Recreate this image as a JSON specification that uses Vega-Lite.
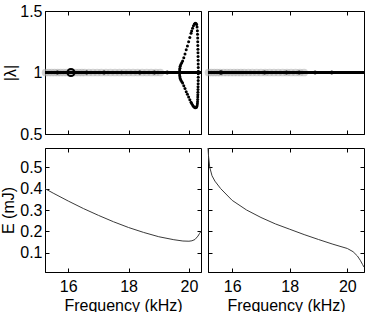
{
  "$schema": "https://vega.github.io/schema/vega-lite/v6.json",
  "padding": {"left": 0, "top": 2, "right": 0, "bottom": 0},
  "background": "white",
  "columns": 2,
  "spacing": {"row": 14, "column": 7},
  "bounds": "flush",
  "config": {
    "font": "Liberation Sans",
    "view": {"stroke": "black", "strokeWidth": 1},
    "axis": {
      "grid": false,
      "labelFont": "Liberation Sans",
      "titleFont": "Liberation Sans",
      "labelFontSize": 16,
      "titleFontSize": 16,
      "titleFontWeight": "normal",
      "labelColor": "black",
      "titleColor": "black",
      "domainColor": "black",
      "tickColor": "black",
      "tickSize": -4,
      "labelPadding": 7
    }
  },
  "datasets": {
    "baseline": [
      {"panel": "L", "f": 15.23, "v": 1},
      {"panel": "L", "f": 20.4, "v": 1},
      {"panel": "R", "f": 15.16, "v": 1},
      {"panel": "R", "f": 20.58, "v": 1}
    ],
    "gray": [
      {"panel": "L", "f": 15.25, "v": 1}, {"panel": "L", "f": 15.35, "v": 1}, {"panel": "L", "f": 15.45, "v": 1},
      {"panel": "L", "f": 15.55, "v": 1}, {"panel": "L", "f": 15.65, "v": 1}, {"panel": "L", "f": 15.75, "v": 1},
      {"panel": "L", "f": 15.85, "v": 1}, {"panel": "L", "f": 15.95, "v": 1}, {"panel": "L", "f": 16.05, "v": 1},
      {"panel": "L", "f": 16.15, "v": 1}, {"panel": "L", "f": 16.25, "v": 1}, {"panel": "L", "f": 16.35, "v": 1},
      {"panel": "L", "f": 16.45, "v": 1}, {"panel": "L", "f": 16.55, "v": 1}, {"panel": "L", "f": 16.68, "v": 1},
      {"panel": "L", "f": 16.82, "v": 1}, {"panel": "L", "f": 16.96, "v": 1}, {"panel": "L", "f": 17.1, "v": 1},
      {"panel": "L", "f": 17.25, "v": 1}, {"panel": "L", "f": 17.4, "v": 1}, {"panel": "L", "f": 17.55, "v": 1},
      {"panel": "L", "f": 17.7, "v": 1}, {"panel": "L", "f": 17.85, "v": 1}, {"panel": "L", "f": 18.0, "v": 1},
      {"panel": "L", "f": 18.15, "v": 1}, {"panel": "L", "f": 18.3, "v": 1}, {"panel": "L", "f": 18.45, "v": 1},
      {"panel": "L", "f": 18.6, "v": 1}, {"panel": "L", "f": 18.75, "v": 1}, {"panel": "L", "f": 18.9, "v": 1},
      {"panel": "L", "f": 19.05, "v": 1},
      {"panel": "R", "f": 15.18, "v": 1}, {"panel": "R", "f": 15.28, "v": 1}, {"panel": "R", "f": 15.38, "v": 1},
      {"panel": "R", "f": 15.48, "v": 1}, {"panel": "R", "f": 15.58, "v": 1}, {"panel": "R", "f": 15.7, "v": 1},
      {"panel": "R", "f": 15.82, "v": 1}, {"panel": "R", "f": 15.94, "v": 1}, {"panel": "R", "f": 16.06, "v": 1},
      {"panel": "R", "f": 16.18, "v": 1}, {"panel": "R", "f": 16.3, "v": 1}, {"panel": "R", "f": 16.42, "v": 1},
      {"panel": "R", "f": 16.56, "v": 1}, {"panel": "R", "f": 16.7, "v": 1}, {"panel": "R", "f": 16.85, "v": 1},
      {"panel": "R", "f": 17.0, "v": 1}, {"panel": "R", "f": 17.15, "v": 1}, {"panel": "R", "f": 17.3, "v": 1},
      {"panel": "R", "f": 17.45, "v": 1}, {"panel": "R", "f": 17.6, "v": 1}, {"panel": "R", "f": 17.75, "v": 1},
      {"panel": "R", "f": 17.9, "v": 1}, {"panel": "R", "f": 18.05, "v": 1}, {"panel": "R", "f": 18.2, "v": 1},
      {"panel": "R", "f": 18.35, "v": 1}, {"panel": "R", "f": 18.5, "v": 1}
    ],
    "dots": [
      {"panel": "L", "f": 15.64, "v": 1, "kind": "m"},
      {"panel": "L", "f": 16.09, "v": 1, "kind": "ring"},
      {"panel": "L", "f": 16.61, "v": 1, "kind": "s"},
      {"panel": "L", "f": 17.19, "v": 1, "kind": "m"},
      {"panel": "L", "f": 17.76, "v": 1, "kind": "xs"},
      {"panel": "L", "f": 18.37, "v": 1, "kind": "m"},
      {"panel": "L", "f": 18.86, "v": 1, "kind": "s"},
      {"panel": "L", "f": 19.28, "v": 1, "kind": "s"},
      {"panel": "R", "f": 15.61, "v": 1, "kind": "L"},
      {"panel": "R", "f": 17.13, "v": 1, "kind": "m"},
      {"panel": "R", "f": 17.89, "v": 1, "kind": "s"},
      {"panel": "R", "f": 18.33, "v": 1, "kind": "m"},
      {"panel": "R", "f": 18.88, "v": 1, "kind": "s"},
      {"panel": "R", "f": 19.46, "v": 1, "kind": "s"}
    ],
    "loop": [
      {"f": 19.69, "v": 1.0}, {"f": 19.692, "v": 1.02}, {"f": 19.70, "v": 1.035}, {"f": 19.71, "v": 1.05},
      {"f": 19.73, "v": 1.065}, {"f": 19.76, "v": 1.08}, {"f": 19.79, "v": 1.093}, {"f": 19.83, "v": 1.12},
      {"f": 19.87, "v": 1.15}, {"f": 19.91, "v": 1.185}, {"f": 19.95, "v": 1.215}, {"f": 19.99, "v": 1.25},
      {"f": 20.03, "v": 1.285}, {"f": 20.07, "v": 1.32}, {"f": 20.09, "v": 1.337}, {"f": 20.12, "v": 1.36},
      {"f": 20.15, "v": 1.38}, {"f": 20.18, "v": 1.395}, {"f": 20.21, "v": 1.40}, {"f": 20.235, "v": 1.398},
      {"f": 20.255, "v": 1.39}, {"f": 20.27, "v": 1.37}, {"f": 20.28, "v": 1.34}, {"f": 20.285, "v": 1.31},
      {"f": 20.29, "v": 1.28}, {"f": 20.292, "v": 1.25}, {"f": 20.295, "v": 1.22}, {"f": 20.298, "v": 1.19},
      {"f": 20.30, "v": 1.16}, {"f": 20.302, "v": 1.13}, {"f": 20.305, "v": 1.10}, {"f": 20.307, "v": 1.07},
      {"f": 20.309, "v": 1.04}, {"f": 20.31, "v": 1.01},
      {"f": 19.692, "v": 0.980}, {"f": 19.70, "v": 0.966}, {"f": 19.71, "v": 0.952},
      {"f": 19.73, "v": 0.939}, {"f": 19.76, "v": 0.926}, {"f": 19.79, "v": 0.915}, {"f": 19.83, "v": 0.893},
      {"f": 19.87, "v": 0.870}, {"f": 19.91, "v": 0.844}, {"f": 19.95, "v": 0.823}, {"f": 19.99, "v": 0.800},
      {"f": 20.03, "v": 0.778}, {"f": 20.07, "v": 0.758}, {"f": 20.09, "v": 0.748}, {"f": 20.12, "v": 0.735},
      {"f": 20.15, "v": 0.725}, {"f": 20.18, "v": 0.717}, {"f": 20.21, "v": 0.714}, {"f": 20.235, "v": 0.715},
      {"f": 20.255, "v": 0.719}, {"f": 20.27, "v": 0.730}, {"f": 20.28, "v": 0.746}, {"f": 20.285, "v": 0.763},
      {"f": 20.29, "v": 0.781}, {"f": 20.292, "v": 0.800}, {"f": 20.295, "v": 0.820}, {"f": 20.298, "v": 0.840},
      {"f": 20.30, "v": 0.862}, {"f": 20.302, "v": 0.885}, {"f": 20.305, "v": 0.909}, {"f": 20.307, "v": 0.935},
      {"f": 20.309, "v": 0.962}, {"f": 20.31, "v": 0.990}
    ],
    "energy": [
      {"panel": "L", "f": 15.23, "e": 0.400}, {"panel": "L", "f": 15.5, "e": 0.379}, {"panel": "L", "f": 16.0, "e": 0.342},
      {"panel": "L", "f": 16.5, "e": 0.307}, {"panel": "L", "f": 17.0, "e": 0.275}, {"panel": "L", "f": 17.5, "e": 0.245},
      {"panel": "L", "f": 18.0, "e": 0.218}, {"panel": "L", "f": 18.5, "e": 0.195}, {"panel": "L", "f": 19.0, "e": 0.175},
      {"panel": "L", "f": 19.5, "e": 0.161}, {"panel": "L", "f": 19.8, "e": 0.155}, {"panel": "L", "f": 20.0, "e": 0.154},
      {"panel": "L", "f": 20.1, "e": 0.156}, {"panel": "L", "f": 20.2, "e": 0.162}, {"panel": "L", "f": 20.3, "e": 0.178},
      {"panel": "L", "f": 20.35, "e": 0.19}, {"panel": "L", "f": 20.4, "e": 0.2},
      {"panel": "R", "f": 15.16, "e": 0.59}, {"panel": "R", "f": 15.18, "e": 0.55}, {"panel": "R", "f": 15.22, "e": 0.50},
      {"panel": "R", "f": 15.3, "e": 0.46}, {"panel": "R", "f": 15.4, "e": 0.435}, {"panel": "R", "f": 15.6, "e": 0.40},
      {"panel": "R", "f": 16.0, "e": 0.345}, {"panel": "R", "f": 16.5, "e": 0.30}, {"panel": "R", "f": 17.0, "e": 0.265},
      {"panel": "R", "f": 17.5, "e": 0.235}, {"panel": "R", "f": 18.0, "e": 0.21}, {"panel": "R", "f": 18.5, "e": 0.185},
      {"panel": "R", "f": 19.0, "e": 0.162}, {"panel": "R", "f": 19.5, "e": 0.14}, {"panel": "R", "f": 20.0, "e": 0.12},
      {"panel": "R", "f": 20.2, "e": 0.105}, {"panel": "R", "f": 20.35, "e": 0.085}, {"panel": "R", "f": 20.45, "e": 0.065},
      {"panel": "R", "f": 20.53, "e": 0.045}, {"panel": "R", "f": 20.58, "e": 0.033}
    ]
  },
  "concat": [
    {
      "width": 156, "height": 123,
      "resolve": {"axis": {"x": "independent", "y": "independent"}},
      "layer": [
        {"data": {"name": "gray"}, "transform": [{"filter": "datum.panel === 'L'"}],
         "mark": {"type": "circle", "color": "#a8a8a8", "opacity": 0.5, "size": 60},
         "encoding": {
           "x": {"field": "f", "type": "quantitative", "scale": {"domain": [15.23, 20.4], "nice": false, "zero": false},
                 "axis": {"orient": "bottom", "labels": false, "title": null, "values": [16, 18, 20]}},
           "y": {"field": "v", "type": "quantitative", "scale": {"domain": [0.5, 1.5], "nice": false},
                 "axis": {"orient": "left", "values": [0.5, 1, 1.5], "format": "~g", "title": "|λ|", "titlePadding": 1}}
         }},
        {"data": {"name": "baseline"}, "transform": [{"filter": "datum.panel === 'L'"}],
         "mark": {"type": "line", "color": "black", "strokeWidth": 3},
         "encoding": {
           "x": {"field": "f", "type": "quantitative", "axis": {"orient": "top", "labels": false, "title": null, "values": [16, 18, 20], "domain": false}},
           "y": {"field": "v", "type": "quantitative", "axis": {"orient": "right", "labels": false, "title": null, "values": [0.5, 1, 1.5], "domain": false}}
         }},
        {"data": {"name": "dots"}, "transform": [{"filter": "datum.panel === 'L' && datum.kind !== 'ring'"}],
         "mark": {"type": "circle", "color": "black", "opacity": 1},
         "encoding": {
           "x": {"field": "f", "type": "quantitative", "axis": null},
           "y": {"field": "v", "type": "quantitative", "axis": null},
           "size": {"field": "kind", "type": "nominal", "scale": {"domain": ["xs", "s", "m", "L"], "range": [12, 20, 34, 55]}, "legend": null}}},
        {"data": {"name": "dots"}, "transform": [{"filter": "datum.panel === 'L' && datum.kind === 'ring'"}],
         "mark": {"type": "point", "filled": false, "color": "black", "strokeWidth": 2, "size": 50, "opacity": 1},
         "encoding": {
           "x": {"field": "f", "type": "quantitative", "axis": null},
           "y": {"field": "v", "type": "quantitative", "axis": null}}},
        {"data": {"name": "loop"},
         "mark": {"type": "circle", "color": "black", "size": 9, "opacity": 1},
         "encoding": {
           "x": {"field": "f", "type": "quantitative", "axis": null},
           "y": {"field": "v", "type": "quantitative", "axis": null}}}
      ]
    },
    {
      "width": 156, "height": 123,
      "resolve": {"axis": {"x": "independent", "y": "independent"}},
      "layer": [
        {"data": {"name": "gray"}, "transform": [{"filter": "datum.panel === 'R'"}],
         "mark": {"type": "circle", "color": "#a8a8a8", "opacity": 0.5, "size": 60},
         "encoding": {
           "x": {"field": "f", "type": "quantitative", "scale": {"domain": [15.16, 20.58], "nice": false, "zero": false},
                 "axis": {"orient": "bottom", "labels": false, "title": null, "values": [16, 18, 20]}},
           "y": {"field": "v", "type": "quantitative", "scale": {"domain": [0.5, 1.5], "nice": false},
                 "axis": {"orient": "left", "values": [0.5, 1, 1.5], "labels": false, "title": null}}
         }},
        {"data": {"name": "baseline"}, "transform": [{"filter": "datum.panel === 'R'"}],
         "mark": {"type": "line", "color": "black", "strokeWidth": 3},
         "encoding": {
           "x": {"field": "f", "type": "quantitative", "axis": {"orient": "top", "labels": false, "title": null, "values": [16, 18, 20], "domain": false}},
           "y": {"field": "v", "type": "quantitative", "axis": {"orient": "right", "labels": false, "title": null, "values": [0.5, 1, 1.5], "domain": false}}
         }},
        {"data": {"name": "dots"}, "transform": [{"filter": "datum.panel === 'R'"}],
         "mark": {"type": "circle", "color": "black", "opacity": 1},
         "encoding": {
           "x": {"field": "f", "type": "quantitative", "axis": null},
           "y": {"field": "v", "type": "quantitative", "axis": null},
           "size": {"field": "kind", "type": "nominal", "scale": {"domain": ["xs", "s", "m", "L"], "range": [12, 20, 34, 55]}, "legend": null}}}
      ]
    },
    {
      "width": 156, "height": 124,
      "data": {"name": "energy"},
      "transform": [{"filter": "datum.panel === 'L'"}],
      "resolve": {"axis": {"x": "independent", "y": "independent"}},
      "layer": [
        {"mark": {"type": "line", "color": "#3a3a3a", "strokeWidth": 1},
         "encoding": {
           "x": {"field": "f", "type": "quantitative", "scale": {"domain": [15.23, 20.4], "nice": false, "zero": false},
                 "axis": {"orient": "bottom", "values": [16, 18, 20], "format": "d", "title": "Frequency (kHz)", "titlePadding": 3, "labelPadding": 10}},
           "y": {"field": "e", "type": "quantitative", "scale": {"domain": [0.01, 0.59], "nice": false, "zero": false},
                 "axis": {"orient": "left", "values": [0.1, 0.2, 0.3, 0.4, 0.5], "format": ".1f", "title": "E (mJ)", "titlePadding": 3}}
         }},
        {"mark": {"type": "line", "opacity": 0},
         "encoding": {
           "x": {"field": "f", "type": "quantitative", "axis": {"orient": "top", "labels": false, "title": null, "values": [16, 18, 20], "domain": false}},
           "y": {"field": "e", "type": "quantitative", "axis": {"orient": "right", "labels": false, "title": null, "values": [0.1, 0.2, 0.3, 0.4, 0.5], "domain": false}}
         }}
      ]
    },
    {
      "width": 156, "height": 124,
      "data": {"name": "energy"},
      "transform": [{"filter": "datum.panel === 'R'"}],
      "resolve": {"axis": {"x": "independent", "y": "independent"}},
      "layer": [
        {"mark": {"type": "line", "color": "#3a3a3a", "strokeWidth": 1},
         "encoding": {
           "x": {"field": "f", "type": "quantitative", "scale": {"domain": [15.16, 20.58], "nice": false, "zero": false},
                 "axis": {"orient": "bottom", "values": [16, 18, 20], "format": "d", "title": "Frequency (kHz)", "titlePadding": 3, "labelPadding": 10}},
           "y": {"field": "e", "type": "quantitative", "scale": {"domain": [0.01, 0.59], "nice": false, "zero": false},
                 "axis": {"orient": "left", "values": [0.1, 0.2, 0.3, 0.4, 0.5], "labels": false, "title": null}}
         }},
        {"mark": {"type": "line", "opacity": 0},
         "encoding": {
           "x": {"field": "f", "type": "quantitative", "axis": {"orient": "top", "labels": false, "title": null, "values": [16, 18, 20], "domain": false}},
           "y": {"field": "e", "type": "quantitative", "axis": {"orient": "right", "labels": false, "title": null, "values": [0.1, 0.2, 0.3, 0.4, 0.5], "domain": false}}
         }}
      ]
    }
  ]
}
